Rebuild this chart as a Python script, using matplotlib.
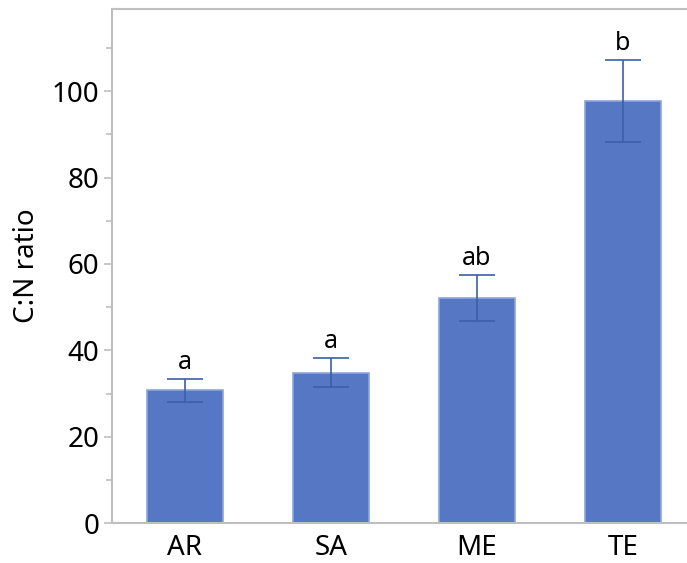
import matplotlib
matplotlib.use("Agg")
import matplotlib.pyplot as plt
from matplotlib.ticker import MultipleLocator

# C:N ratio per stage, mean with error and significance letters
stages = ["AR", "SA", "ME", "TE"]
cn_mean = [30.8, 34.8, 52.2, 97.7]
cn_err = [2.65, 3.35, 5.3, 9.4]
letters = ["a", "a", "ab", "b"]

bar_color = "#5677c4"
edge_color = "#8ea5da"
err_color = "#3d5ea8"
axis_color = "#bfbfbf"

plt.rcParams['font.family'] = ['Noto Sans', 'DejaVu Sans']

fig = plt.figure(figsize=(6.87, 5.63), dpi=100)
ax = fig.add_axes([0.163, 0.0705, 0.850, 0.9135])

x = range(len(stages))
ax.bar(x, cn_mean, width=0.52, color=bar_color, edgecolor=edge_color, linewidth=1.2, zorder=2)
ax.errorbar(x, cn_mean, yerr=cn_err, fmt='none', ecolor=err_color, elinewidth=1.2,
            capsize=13, capthick=1.2, zorder=3)

for xi, m, e, lab in zip(x, cn_mean, cn_err, letters):
    ax.annotate(lab, (xi, m + e), xytext=(0, 3), textcoords='offset points',
                ha='center', va='bottom', fontsize=18)

ax.set_xlim(-0.5, 3.5)
ax.set_ylim(0, 119)
ax.set_xticks(list(x))
ax.set_xticklabels(stages, fontsize=20)
ax.yaxis.set_major_locator(MultipleLocator(20))
ax.yaxis.set_minor_locator(MultipleLocator(10))
ax.tick_params(axis='y', which='major', labelsize=20, length=6, width=1.2, color=axis_color, pad=3)
ax.tick_params(axis='y', which='minor', length=4, width=1.2, color=axis_color)
ax.tick_params(axis='x', length=0, pad=8)
ax.set_ylabel("C:N ratio", fontsize=20, labelpad=8)

for side in ['left', 'bottom', 'top']:
    ax.spines[side].set_color(axis_color)
    ax.spines[side].set_linewidth(1.5)
ax.spines['right'].set_visible(False)

fig.savefig("out.png", dpi=100)
